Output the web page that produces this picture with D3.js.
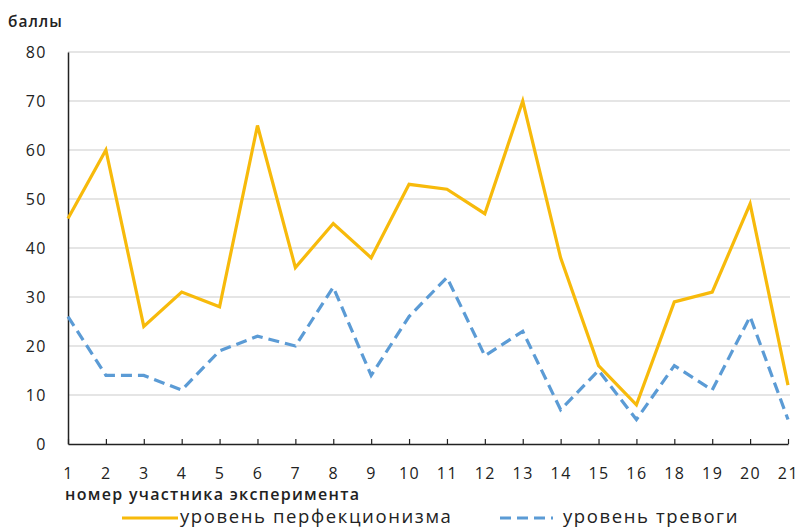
<!DOCTYPE html>
<html><head><meta charset="utf-8">
<script src="https://cdn.jsdelivr.net/npm/d3@7"></script>
<style>body{margin:0;background:#fff}svg{display:block}text{font-family:"Open Sans","DejaVu Sans",sans-serif;fill:#222}</style>
</head><body>
<svg id="c" width="802" height="530"></svg>
<script>
const categories = ["1","2","3","4","5","6","7","8","9","10","11","12","13","14","15","16","18","19","20","21"];
const perfectionism = [46,60,24,31,28,65,36,45,38,53,52,47,70,38,16,8,29,31,49,12];
const anxiety = [26,14,14,11,19,22,20,32,14,26,34,18,23,7,15,5,16,11,26,5];
const yTicks = [0,10,20,30,40,50,60,70,80];
const seriesNames = ["уровень перфекционизма","уровень тревоги"];

const svg = d3.select("#c");
const x = d3.scalePoint().domain(categories).range([68,788]);
const y = d3.scaleLinear().domain([0,80]).range([444,52]);

// gridlines
svg.append("g").selectAll("line").data(yTicks.filter(d=>d>0)).join("line")
  .attr("x1",68).attr("x2",790).attr("y1",d=>y(d)).attr("y2",d=>y(d))
  .attr("stroke","#dcdcdc").attr("stroke-width",1.5);

// y axis
const ya = svg.append("g").attr("transform","translate(68,0)")
  .call(d3.axisLeft(y).tickValues(yTicks).tickSize(0).tickPadding(21));
ya.select(".domain").attr("stroke","#222").attr("stroke-width",1.5);
ya.selectAll("text").style("font-size","16px").style("letter-spacing","1.5px").attr("fill","#222");

// x axis
const xa = svg.append("g").attr("transform","translate(0,444)")
  .call(d3.axisBottom(x).tickSizeInner(-5).tickSizeOuter(0).tickPadding(24));
xa.select(".domain").attr("stroke","#222").attr("stroke-width",1.5);
xa.selectAll(".tick line").attr("stroke","#222").attr("stroke-width",1.2);
xa.selectAll("text").style("font-size","16px").style("letter-spacing","1.5px").attr("fill","#222");

// lines
const line = d3.line().x((d,i)=>x(categories[i])).y(d=>y(d));
svg.append("path").datum(perfectionism).attr("d",line)
  .attr("fill","none").attr("stroke","#F7BA0B").attr("stroke-width",3.2).attr("stroke-linejoin","miter");
svg.append("path").datum(anxiety).attr("d",line)
  .attr("fill","none").attr("stroke","#5B9BD5").attr("stroke-width",3.2).attr("stroke-dasharray","11,6");

// titles
svg.append("text").attr("x",8).attr("y",27).text("баллы").style("font-size","15.5px").style("font-weight","600").style("letter-spacing","1px");
svg.append("text").attr("x",65).attr("y",500).text("номер участника эксперимента").style("font-size","16px").style("font-weight","600").style("letter-spacing","1.3px");

// legend
const lg = svg.append("g");
lg.append("line").attr("x1",122).attr("x2",178).attr("y1",518).attr("y2",518).attr("stroke","#F7BA0B").attr("stroke-width",3.2);
lg.append("text").attr("x",180).attr("y",523).text(seriesNames[0]).style("font-size","18.5px").style("letter-spacing","1.6px");
lg.append("line").attr("x1",500).attr("x2",553).attr("y1",518).attr("y2",518).attr("stroke","#5B9BD5").attr("stroke-width",3.2).attr("stroke-dasharray","11,6");
lg.append("text").attr("x",563).attr("y",523).text(seriesNames[1]).style("font-size","18.5px").style("letter-spacing","1.6px");
</script>
</body></html>
